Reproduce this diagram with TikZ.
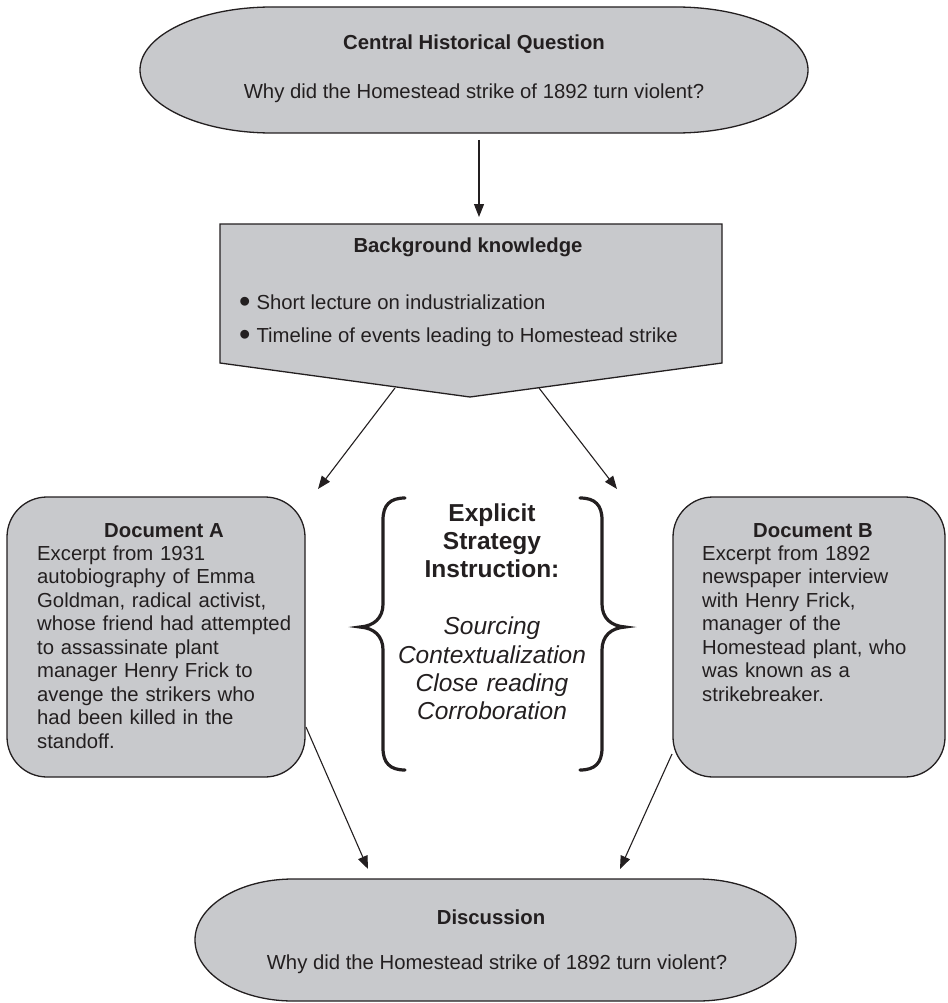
\documentclass[tikz,border=0pt]{standalone}
\usepackage{fontspec}
\setmainfont{Liberation Sans}
\usetikzlibrary{arrows.meta}
\definecolor{boxfill}{RGB}{200,201,204}
\definecolor{ink}{RGB}{35,31,32}
\newcommand{\bigbullet}{\raisebox{-3pt}{\scalebox{1.6}{\textbullet}}}
\begin{document}
\begin{tikzpicture}[x=1pt,y=-1pt,
  shapeline/.style={draw=ink,line width=1.3pt,fill=boxfill},
  arr/.style={draw=ink,line width=1.1pt,-{Triangle[length=13pt,width=10pt]}},
  docbox/.style={shapeline,rounded corners=40pt,inner sep=0pt},
  txt/.style={text=ink,inner sep=0pt,font=\fontsize{20.3}{23.5}\selectfont},
  btxt/.style={txt,font=\fontsize{20.3}{23.5}\selectfont\bfseries},
  ctxt/.style={text=ink,inner sep=0pt,align=center,text width=280pt,font=\fontsize{24.5}{28.4}\selectfont},
  bracestyle/.style={draw=ink,line width=3.2pt,line cap=round}]
\useasboundingbox (0,0) rectangle (947,1003);
% top question (stadium)
\draw[shapeline] (272,7) -- (676,7) arc[start angle=-90,end angle=90,x radius=132,y radius=63]
  -- (272,133) arc[start angle=90,end angle=270,x radius=132,y radius=63] -- cycle;
\node[btxt,anchor=base] (qtitle) at (474,50) {Central Historical Question};
\node[txt,anchor=base] (qtext) at (474,99) {Why did the Homestead strike of 1892 turn violent?};
% background knowledge pentagon
\draw[shapeline] (220,224) -- (722,224) -- (722,363) -- (470,397) -- (220,363) -- cycle;
\node[btxt,anchor=base] (bgtitle) at (468,252) {Background knowledge};
\node[txt,anchor=base west] (bg1) at (239,309) {\bigbullet\hspace{6pt}Short lecture on industrialization};
\node[txt,anchor=base west] (bg2) at (239,342) {\bigbullet\hspace{6pt}Timeline of events leading to Homestead strike};
% document boxes
\node[docbox,minimum width=298pt,minimum height=280pt] (docA) at (156,637) {};
\node[btxt,anchor=base] (docAtitle) at (164,537) {Document A};
\node[txt,anchor=base west,text width=270pt,align=left] (docAbody) at (37,560)
  {Excerpt from 1931\\autobiography of Emma\\Goldman, radical activist,\\whose friend had attempted\\to assassinate plant\\manager Henry Frick to\\avenge the strikers who\\had been killed in the\\standoff.};
\node[docbox,minimum width=272pt,minimum height=280pt] (docB) at (809,637) {};
\node[btxt,anchor=base] (docBtitle) at (813,537) {Document B};
\node[txt,anchor=base west,text width=240pt,align=left] (docBbody) at (702,560)
  {Excerpt from 1892\\newspaper interview\\with Henry Frick,\\manager of the\\Homestead plant, who\\was known as a\\strikebreaker.};
% braces
\draw[bracestyle] (405,498) .. controls (390,498) and (383,505) .. (383,520) -- (383,604)
  .. controls (383,618) and (374,626) .. (360,627) .. controls (374,628) and (383,636) .. (383,650)
  -- (383,748) .. controls (383,763) and (390,770) .. (405,770);
\draw[bracestyle] (580,498) .. controls (595,498) and (602,505) .. (602,520) -- (602,604)
  .. controls (602,618) and (611,626) .. (625,627) .. controls (611,628) and (602,636) .. (602,650)
  -- (602,748) .. controls (602,763) and (595,770) .. (580,770);
\node[ctxt,anchor=base] (strat) at (492,521)
  {\textbf{Explicit}\\\textbf{Strategy}\\\textbf{Instruction:}\\[28.4pt]\textit{Sourcing}\\\textit{Contextualization}\\\textit{Close reading}\\\textit{Corroboration}};
% discussion (stadium)
\draw[shapeline] (293,879) -- (698,879) arc[start angle=-90,end angle=90,x radius=98,y radius=61]
  -- (293,1001) arc[start angle=90,end angle=270,x radius=98,y radius=61] -- cycle;
\node[btxt,anchor=base] (dtitle) at (491,924) {Discussion};
\node[txt,anchor=base] (dtext) at (497,969) {Why did the Homestead strike of 1892 turn violent?};
% connector end points
\coordinate (qbot) at (479,140);
\coordinate (bgtop) at (479,217);
\coordinate (bgL) at (395,388);
\coordinate (bgR) at (539,388);
\coordinate (docAtop) at (318,489);
\coordinate (docBtop) at (617,489);
\coordinate (docAout) at (306,727);
\coordinate (docBout) at (672,754);
\coordinate (dL) at (368,869);
\coordinate (dR) at (620,869);
\draw[arr] (qbot) -- (bgtop);
\draw[arr] (bgL) -- (docAtop);
\draw[arr] (bgR) -- (docBtop);
\draw[arr] (docAout) -- (dL);
\draw[arr] (docBout) -- (dR);
\end{tikzpicture}
\end{document}
